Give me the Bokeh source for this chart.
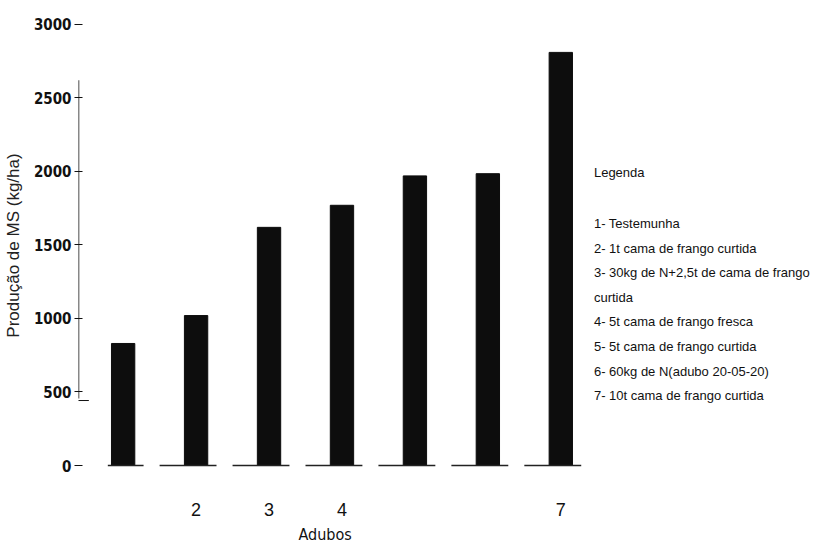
from bokeh.plotting import figure
from bokeh.models import Range1d, FixedTicker, ColumnDataSource, Title
from bokeh.core.properties import value
from bokeh.embed import file_html
from bokeh.resources import INLINE

# ---- data ----
categories = [1, 2, 3, 4, 5, 6, 7]
x_tick_labels = ["", "2", "3", "4", "", "", "7"]
producao = [830, 1020, 1620, 1770, 1970, 1985, 2810]
y_ticks = [0, 500, 1000, 1500, 2000, 2500, 3000]
x_title = "Adubos"
y_title = "Produção de MS (kg/ha)"
legend_title = "Legenda"
legend_lines = [
    "1- Testemunha",
    "2- 1t cama de frango curtida",
    "3- 30kg de N+2,5t de cama de frango",
    "curtida",
    "4- 5t cama de frango fresca",
    "5- 5t cama de frango curtida",
    "6- 60kg de N(adubo 20-05-20)",
    "7- 10t cama de frango curtida",
]

COND = "DejaVu Sans Condensed"
SANS = "Liberation Sans"

p = figure(width=811, height=534, output_backend="svg", toolbar_location=None,
           x_range=Range1d(0.388, 10.574), y_range=Range1d(-34, 3027),
           frame_width=743, frame_height=450,
           min_border_left=68, min_border_right=0, min_border_top=20, min_border_bottom=64)
p.outline_line_color = None
p.grid.grid_line_color = None
p.background_fill_color = "white"
p.border_fill_color = "white"

# bars
src = ColumnDataSource(dict(x=categories, top=producao))
p.vbar(x="x", top="top", bottom=0, width=0.32, source=src,
       fill_color="#0d0d0d", line_color="#0d0d0d")

# little floor line under each bar
x0 = [c - (0.21 if i == 0 else 0.5) for i, c in enumerate(categories)]
x1 = [c + 0.28 for c in categories]
p.segment(x0=x0, y0=[0] * len(categories), x1=x1, y1=[0] * len(categories),
          line_color="#222222", line_width=1.6)

# y axis line (only partially visible in original scan)
p.segment(x0=[0.388], y0=[456], x1=[0.388], y1=[2620], line_color="#111111", line_width=1.5)
p.segment(x0=[0.2], y0=[442], x1=[0.53], y1=[442], line_color="#111111", line_width=1)

# axes
p.xaxis.ticker = FixedTicker(ticks=categories)
p.xaxis.major_label_overrides = {c: l for c, l in zip(categories, x_tick_labels)}
p.xaxis.axis_line_color = None
p.xaxis.major_tick_line_color = None
p.xaxis.minor_tick_line_color = None
p.xaxis.major_label_standoff = 26
p.xaxis.major_label_text_font = SANS
p.xaxis.major_label_text_font_size = "18px"
p.xaxis.major_label_text_color = "#111111"

p.yaxis.ticker = FixedTicker(ticks=y_ticks)
p.yaxis.axis_line_color = None
p.yaxis.major_tick_in = 4
p.yaxis.major_tick_out = 4
p.yaxis.major_tick_line_color = "#111111"
p.yaxis.minor_tick_line_color = None
p.yaxis.major_label_standoff = 3
p.yaxis.major_label_text_font = COND
p.yaxis.major_label_text_font_style = "bold"
p.yaxis.major_label_text_font_size = "15px"
p.yaxis.major_label_text_color = "#111111"
p.yaxis.axis_label = y_title
p.yaxis.axis_label_text_font = SANS
p.yaxis.axis_label_text_font_style = "normal"
p.yaxis.axis_label_text_font_size = "17px"
p.yaxis.axis_label_text_color = "#222222"
p.yaxis.axis_label_standoff = 8

# x-axis title, placed under the bars as in the original
p.add_layout(Title(text=x_title, align="left", offset=220, text_font=COND,
                   text_font_size="16px", text_font_style="normal",
                   text_color="#111111", standoff=9), "below")

ys_scale = 6.803
def yv(page_y):
    return (465 - page_y) * ys_scale

# legend text block
p.text(x=[7.454], y=[yv(172)], text=[legend_title], text_font=value(SANS),
       text_font_size="13px", text_baseline="middle", text_color="#111111")
ly = [yv(223 + 24.6 * i) for i in range(len(legend_lines))]
p.text(x=[7.454] * len(legend_lines), y=ly, text=legend_lines, text_font=value(SANS),
       text_font_size="13px", text_baseline="middle", text_color="#111111")

open("out.html", "w").write(file_html(p, INLINE))
